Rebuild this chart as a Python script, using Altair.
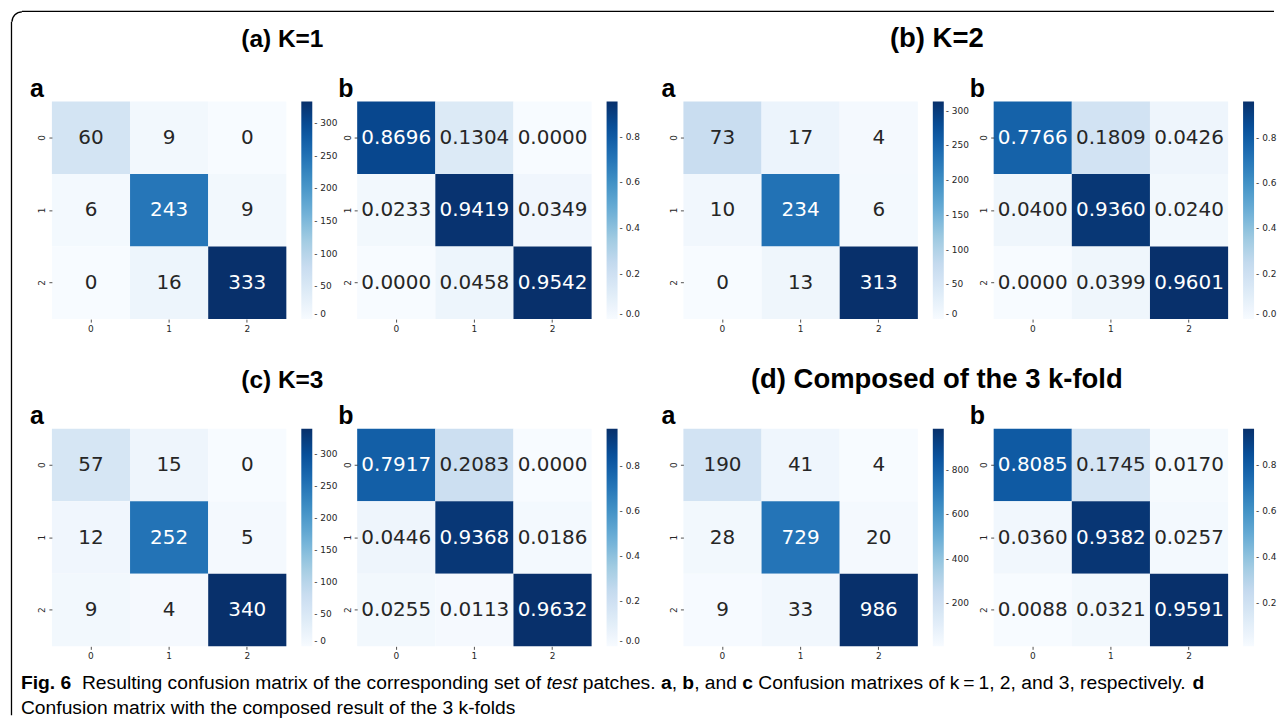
import altair as alt
import pandas as pd

# ---------------- data ----------------
class_labels = ["0", "1", "2"]

k1_counts = [[60, 9, 0], [6, 243, 9], [0, 16, 333]]
k1_norm = [[0.8696, 0.1304, 0.0000], [0.0233, 0.9419, 0.0349], [0.0000, 0.0458, 0.9542]]
k2_counts = [[73, 17, 4], [10, 234, 6], [0, 13, 313]]
k2_norm = [[0.7766, 0.1809, 0.0426], [0.0400, 0.9360, 0.0240], [0.0000, 0.0399, 0.9601]]
k3_counts = [[57, 15, 0], [12, 252, 5], [9, 4, 340]]
k3_norm = [[0.7917, 0.2083, 0.0000], [0.0446, 0.9368, 0.0186], [0.0255, 0.0113, 0.9632]]
all_counts = [[190, 41, 4], [28, 729, 20], [9, 33, 986]]
all_norm = [[0.8085, 0.1745, 0.0170], [0.0360, 0.9382, 0.0257], [0.0088, 0.0321, 0.9591]]

count_ticks = [0, 50, 100, 150, 200, 250, 300]
count_ticks_all = [200, 400, 600, 800]
norm_ticks = [0.0, 0.2, 0.4, 0.6, 0.8]
norm_ticks_all = [0.2, 0.4, 0.6, 0.8]

# matplotlib "Blues" colormap anchor colours
blues = ["#f7fbff", "#deebf7", "#c6dbef", "#9ecae1", "#6baed6",
         "#4292c6", "#2171b5", "#08519c", "#08306b"]

group_titles = ["(a) K=1", "(b) K=2", "(c) K=3", "(d) Composed of the 3 k-fold"]
panel_letters = ["a", "b"]
caption_line1 = [
    ("Fig. 6  ", "bold", "normal"),
    ("Resulting confusion matrix of the corresponding set of ", "normal", "normal"),
    ("test", "normal", "italic"),
    (" patches. ", "normal", "normal"),
    ("a", "bold", "normal"),
    (", ", "normal", "normal"),
    ("b", "bold", "normal"),
    (", and ", "normal", "normal"),
    ("c", "bold", "normal"),
    (" Confusion matrixes of k\u2009=\u20091, 2, and 3, respectively. ", "normal", "normal"),
    ("d", "bold", "normal"),
]
caption_line2 = "Confusion matrix with the composed result of the 3 k-folds"

# ---------------- helpers ----------------
W, H = 235, 218
INK = "#262626"
CAP_FONT = "Liberation Sans"
CAP_SIZE = 19.3

# Arial / Liberation Sans advance widths (1/1000 em) used to place caption pieces
_REG = dict(zip(" ,.=0123456789", [278, 278, 278, 584] + [556] * 10))
_REG.update(dict(zip("abcdefghijklmnopqrstuvwxyz",
                     [556, 556, 500, 556, 556, 278, 556, 556, 222, 222, 500, 222, 833,
                      556, 556, 556, 556, 333, 500, 278, 556, 500, 722, 500, 500, 500])))
_REG.update({"C": 722, "R": 722, "F": 611, "-": 333, "\u2009": 200})
_BOLD = {"a": 556, "b": 611, "c": 556, "d": 611, "F": 611, "i": 278, "g": 611,
         ".": 278, " ": 278, "6": 556}


def text_w(s, bold):
    tab = _BOLD if bold else _REG
    return sum(tab.get(ch, _REG.get(ch, 556)) for ch in s) / 1000.0 * CAP_SIZE


def ann(text, x, y, size, weight="normal", align="left", font="Liberation Sans",
        style="normal", color="black"):
    return alt.Chart(pd.DataFrame({"t": [text]})).mark_text(
        font=font, fontSize=size, fontWeight=weight, fontStyle=style, align=align,
        baseline="alphabetic", color=color
    ).encode(text="t:N", x=alt.value(x), y=alt.value(y))


def heat(mat, fmt, ticks, tick_fmt, view_w, extra):
    flat = [v for r in mat for v in r]
    mn, mx = min(flat), max(flat)
    n = len(blues)
    stops = [mn + (mx - mn) * k / (n - 1) for k in range(n)]
    recs = []
    for i, r in enumerate(mat):
        for j, v in enumerate(r):
            recs.append({"row": class_labels[i], "col": class_labels[j], "v": v,
                         "txt": fmt.format(v), "light": (v - mn) / (mx - mn) < 0.5})
    df = pd.DataFrame(recs)
    ax_common = dict(title=None, domain=False, labelFont="DejaVu Sans", labelFontSize=9,
                     labelColor=INK, tickColor=INK, tickSize=3, tickWidth=0.8,
                     labelPadding=2, grid=False)
    base = alt.Chart(df).encode(
        x=alt.X("col:O", sort=class_labels,
                scale=alt.Scale(range=[0, W], paddingInner=0, paddingOuter=0),
                axis=alt.Axis(labelAngle=0, **ax_common)),
        y=alt.Y("row:O", sort=class_labels,
                scale=alt.Scale(paddingInner=0, paddingOuter=0),
                axis=alt.Axis(labelAngle=-90, labelAlign="center", labelBaseline="bottom",
                              **ax_common)),
    )
    rect = base.mark_rect().encode(
        color=alt.Color("v:Q", title=None,
                        scale=alt.Scale(domain=stops, range=blues, interpolate="rgb"),
                        legend=alt.Legend(orient="none", legendX=W + 15, legendY=0,
                                          direction="vertical", gradientLength=H,
                                          gradientThickness=11, values=ticks,
                                          format=tick_fmt,
                                          labelExpr="'- ' + datum.label",
                                          labelFont="DejaVu Sans", labelFontSize=9,
                                          labelColor=INK, labelBaseline="middle",
                                          labelOffset=2, labelOverlap=False, padding=0,
                                          gradientStrokeWidth=0))
    )
    text = base.mark_text(font="DejaVu Sans", fontSize=20, baseline="middle").encode(
        text="txt:N",
        color=alt.condition("datum.light", alt.value(INK), alt.value("white")),
    )
    return alt.layer(rect, text, *extra).properties(width=view_w, height=H)


def hline(x1, x2, y):
    return alt.Chart(pd.DataFrame({"a": [0]})).mark_rule(
        color="black", strokeWidth=1.3).encode(x=alt.value(x1), x2=alt.value(x2), y=alt.value(y))


def vline(x, y1, y2):
    return alt.Chart(pd.DataFrame({"a": [0]})).mark_rule(
        color="black", strokeWidth=1.3).encode(x=alt.value(x), y=alt.value(y1), y2=alt.value(y2))


def corner(cx, cy):
    return alt.Chart(pd.DataFrame({"a": [0]})).mark_arc(
        theta=4.712389, theta2=6.283185, radius=10.65, radius2=9.35, color="black"
    ).encode(x=alt.value(cx), y=alt.value(cy))


# frame of the figure, in coordinates of the first panel
frame = [hline(-30, 1225, -90.5), vline(-40.5, -80, 615), corner(-30, -80)]

# caption pieces, in coordinates of the first panel of the second row
caption = []
cx = -31.0
for txt, wt, st in caption_line1:
    lead = len(txt) - len(txt.lstrip(" "))
    caption.append(ann(txt.strip(" "), cx + text_w(" " * lead, False), 261, CAP_SIZE,
                       weight=wt, style=st, font=CAP_FONT))
    cx += text_w(txt, wt == "bold")
caption.append(ann(caption_line2, -31, 286, CAP_SIZE, font=CAP_FONT))

# column extra widths so that the uneven gaps of the figure are reproduced
col_w = [W, W + 21, W + 5, W]
label_dx = [-22, -19, -22, -24]

panels = []
mats = [
    (k1_counts, "{:.0f}", count_ticks, "d"), (k1_norm, "{:.4f}", norm_ticks, ".1f"),
    (k2_counts, "{:.0f}", count_ticks, "d"), (k2_norm, "{:.4f}", norm_ticks, ".1f"),
    (k3_counts, "{:.0f}", count_ticks, "d"), (k3_norm, "{:.4f}", norm_ticks, ".1f"),
    (all_counts, "{:.0f}", count_ticks_all, "d"), (all_norm, "{:.4f}", norm_ticks_all, ".1f"),
]
for idx, (m, f, t, tf) in enumerate(mats):
    row, col = divmod(idx, 4)
    extra = [ann(panel_letters[col % 2], label_dx[col], -5, 25, weight="bold")]
    if col % 2 == 0:
        gt = group_titles[row * 2 + col // 2]
        gx = 231 if col == 0 else 254
        gy = -55 if row == 0 else -41
        gs = 24.5 if col == 0 else 27.5
        extra.append(ann(gt, gx, gy, gs, weight="bold", align="center"))
    if idx == 0:
        extra.extend(frame)
    if idx == 4:
        extra.extend(caption)
    panels.append(heat(m, f, t, tf, col_w[col], extra))

chart = alt.concat(
    *panels, columns=4, spacing={"row": 110, "column": 71}, bounds="flush", align="each"
).resolve_scale(color="independent").properties(
    padding={"left": 2, "top": 1, "right": 0, "bottom": 0}
).configure_view(strokeWidth=0)

chart.save("out.html", embed_options={"renderer": "svg", "actions": False})
